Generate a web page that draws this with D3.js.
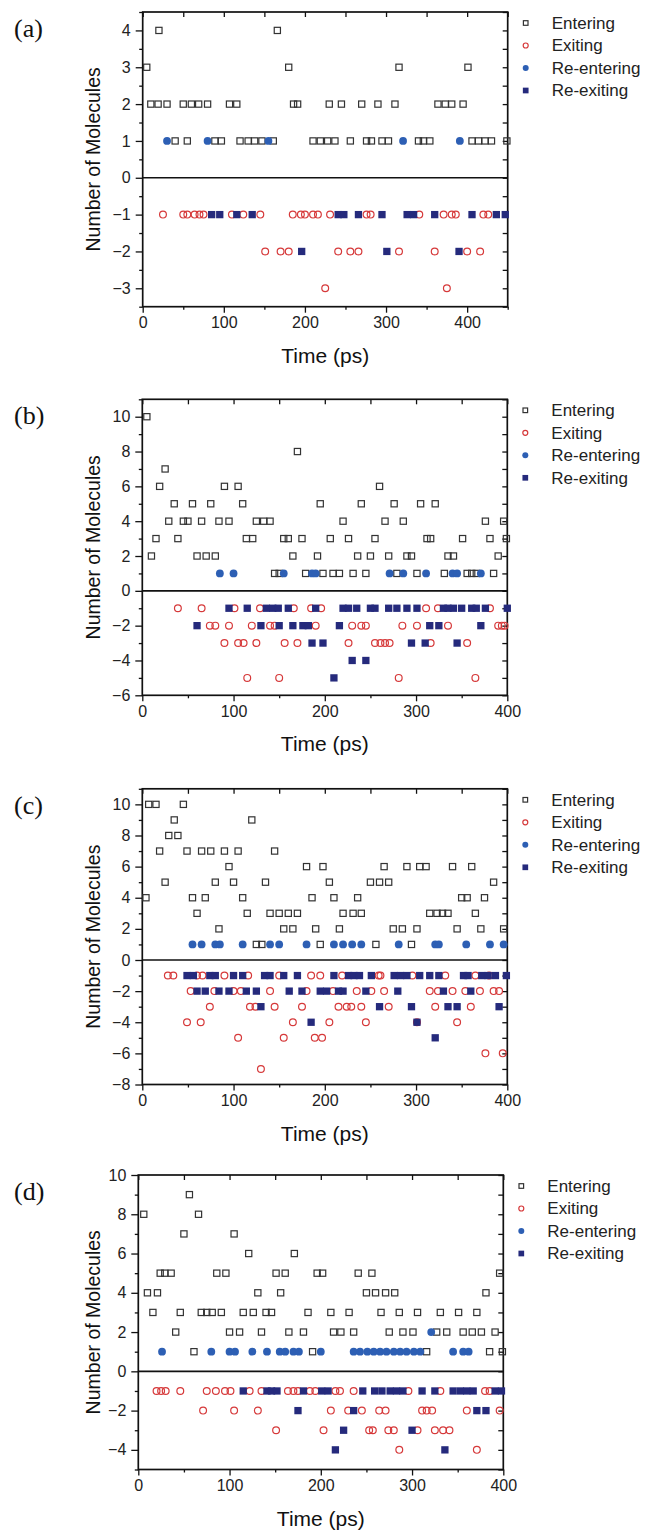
<!DOCTYPE html>
<html><head><meta charset="utf-8">
<script src="https://cdn.jsdelivr.net/npm/d3@7"></script>
<style>body{margin:0;background:#fff}</style>
</head><body>
<svg id="c" width="649" height="1531"></svg>
<script>
// ---------- DATA: [number of molecules, [times in ps]] ----------
const aEnter = [
 [4,[20,166]],
 [3,[5,180,316,401]],
 [2,[10,19,30,50,60,69,80,107,116,186,191,230,245,270,290,311,364,373,381,395]],
 [1,[40,55,89,97,120,130,138,147,161,210,219,228,237,256,276,282,295,303,340,346,354,406,414,422,430,449]]
];
const aExit = [
 [-1,[25,50,55,64,70,75,110,124,145,185,195,200,210,216,231,276,281,341,371,381,386,420,426]],
 [-2,[151,170,180,241,256,266,316,360,400,416]],
 [-3,[225,375]]
];
const aReEnter = [[1,[30,80,155,321,391]]];
const aReExit = [
 [-1,[85,95,116,135,241,248,266,295,326,334,360,406,436,447]],
 [-2,[196,301,390]]
];

const bEnter = [
 [10,[5]],
 [8,[170]],
 [7,[25]],
 [6,[19,90,105,260]],
 [5,[35,55,75,110,195,240,276,305,321]],
 [4,[29,45,50,65,84,95,125,133,140,220,266,286,376,396]],
 [3,[15,39,114,121,155,160,175,206,226,255,312,316,351,381,399]],
 [2,[10,60,70,80,165,192,236,250,270,290,295,335,341,390]],
 [1,[145,150,179,198,209,216,231,245,279,301,331,356,361,366,385]]
];
const bExit = [
 [-1,[39,65,101,129,166,185,196,311,324,381]],
 [-2,[74,80,95,120,140,145,190,230,240,245,285,301,335,390,394,397]],
 [-3,[90,105,111,125,156,170,226,255,261,266,271,316,356]],
 [-5,[115,150,281,365]]
];
const bReEnter = [[1,[85,100,155,186,190,271,286,311,340,345,371]]];
const bReExit = [
 [-1,[95,115,136,143,149,160,190,220,226,235,250,255,270,279,290,301,330,335,341,350,361,366,376,400]],
 [-2,[60,130,150,165,176,182,216,315,325,371]],
 [-3,[186,198,295,310,345]],
 [-4,[230,245]],
 [-5,[210]]
];

const cEnter = [
 [10,[7,15,45]],
 [9,[35,120]],
 [8,[29,39]],
 [7,[19,49,65,75,90,105,145]],
 [6,[95,180,198,265,290,304,311,340,361]],
 [5,[25,80,100,135,205,250,260,270,385]],
 [4,[4,55,69,110,186,210,236,350,356,375]],
 [3,[60,115,140,150,160,170,220,231,240,315,323,329,335,365]],
 [2,[84,155,165,190,216,275,285,301,345,371,396]],
 [1,[125,131,195,256,295]]
];
const cExit = [
 [-1,[28,34,60,66,90,116,150,185,195,219,259,261,296,332,365,380]],
 [-2,[53,79,100,108,140,180,209,235,251,265,315,324,340,354,370,385,391]],
 [-3,[74,118,124,145,175,215,224,229,240,270,321,360]],
 [-4,[49,64,165,205,245,301,345]],
 [-5,[105,155,189,197]],
 [-6,[376,395]],
 [-7,[130]]
];
const cReEnter = [[1,[55,65,80,85,110,140,150,180,210,220,230,240,281,321,325,355,381,396]]];
const cReExit = [
 [-1,[49,56,74,80,100,110,134,140,155,170,210,226,232,238,251,276,283,290,304,315,325,352,357,372,379,387,399]],
 [-2,[60,69,84,95,114,125,161,175,195,202,215,220,245,280,330,360]],
 [-3,[130,260,295,335,345,391]],
 [-4,[185,301]],
 [-5,[321]]
];

const dEnter = [
 [9,[56]],
 [8,[6,66]],
 [7,[50,105]],
 [6,[121,171]],
 [5,[24,29,36,86,96,151,161,196,202,241,256,396]],
 [4,[10,21,131,156,250,260,271,281,381]],
 [3,[16,46,69,75,81,91,115,126,140,146,186,211,231,266,286,306,331,351,371]],
 [2,[41,100,111,135,165,181,214,222,236,275,290,301,327,338,356,366,376,391]],
 [1,[61,191,316,385,399]]
];
const dExit = [
 [-1,[20,25,30,46,75,85,95,101,122,135,164,170,175,188,194,216,221,236,296,331,380,385]],
 [-2,[71,105,131,211,230,245,264,271,311,316,322,360,396]],
 [-3,[151,203,253,257,274,280,306,325,334,341]],
 [-4,[286,371]]
];
const dReEnter = [
 [2,[321]],
 [1,[26,80,100,106,125,141,155,161,170,176,200,236,243,251,258,265,272,280,287,294,302,309,345,356,362]]
];
const dReExit = [
 [-1,[115,141,146,152,181,201,208,246,259,267,276,283,290,311,325,345,353,360,367,391,398]],
 [-2,[175,236,371,381]],
 [-3,[225,300]],
 [-4,[216,336]]
];

const panelLabels = ["(a)","(b)","(c)","(d)"];
const seriesNames = ["Entering","Exiting","Re-entering","Re-exiting"];
const xDomains = [[0,450],[0,400],[0,400],[0,400]];
const yDomains = [[-3.5,4.5],[-6,11],[-8,11],[-5,10]];
const xTickLabels = [0,100,200,300,400];
const yTickLabels = [
 [-3,-2,-1,0,1,2,3,4],
 [-6,-4,-2,0,2,4,6,8,10],
 [-8,-6,-4,-2,0,2,4,6,8,10],
 [-4,-2,0,2,4,6,8,10]
];
const yMinorStep = [0.5,1,1,1];
const xAxisTitle = "Time (ps)";
const yAxisTitle = "Number of Molecules";

const panelData = [
 [aEnter,aExit,aReEnter,aReExit],
 [bEnter,bExit,bReEnter,bReExit],
 [cEnter,cExit,cReEnter,cReExit],
 [dEnter,dExit,dReEnter,dReExit]
];

// ---------- LAYOUT ----------
const layout = [
 {x0:142.7, x1:507.7, y0:12,    y1:306.7},
 {x0:142.3, x1:507.3, y0:399.3, y1:695.3},
 {x0:142.3, x1:507.3, y0:788.8, y1:1084.5},
 {x0:138.3, x1:503.3, y0:1175,  y1:1469.5}
];
const FONT = "'Liberation Sans', Arial, Helvetica, sans-serif";
const colEnter = "#333", colExit = "#d6393a", colReEnter = "#2d5fb4", colReExit = "#252a7c";

const svg = d3.select("#c");

function flat(rows){ return rows.flatMap(([n,ts]) => ts.map(t => ({t,n}))); }
function range(a,b,s){ const r=[]; for(let v=a; v<=b+1e-9; v+=s) r.push(+v.toFixed(3)); return r; }

function drawMarker(g, type, cx, cy, big){
  const s = big ? 6.2 : 4.6, r = big ? 3.4 : 2.5;
  if(type===0) g.append("rect").attr("x",cx-s/2).attr("y",cy-s/2).attr("width",s).attr("height",s)
    .attr("fill","none").attr("stroke",colEnter).attr("stroke-width",1.2);
  else if(type===1) g.append("circle").attr("cx",cx).attr("cy",cy).attr("r",r)
    .attr("fill","none").attr("stroke",colExit).attr("stroke-width",1.2);
  else if(type===2) g.append("circle").attr("cx",cx).attr("cy",cy).attr("r",r+0.5)
    .attr("fill",colReEnter);
  else { const q=s+1.1; g.append("rect").attr("x",cx-q/2).attr("y",cy-q/2).attr("width",q).attr("height",q)
    .attr("fill",colReExit); }
}

panelData.forEach((series, i) => {
  const L = layout[i];
  const x = d3.scaleLinear().domain(xDomains[i]).range([L.x0, L.x1]);
  const y = d3.scaleLinear().domain(yDomains[i]).range([L.y1, L.y0]);
  const g = svg.append("g");
  const [yd0, yd1] = yDomains[i];
  const yMinor = range(yd0, yd1, yMinorStep[i]).filter(v => !yTickLabels[i].includes(v));
  const xMinor = range(xDomains[i][0], xDomains[i][1], 50).filter(v => !xTickLabels.includes(v));

  // bottom axis
  g.append("g").attr("transform",`translate(0,${L.y1})`)
    .call(d3.axisBottom(x).tickValues(xTickLabels).tickSize(6).tickSizeOuter(0).tickPadding(4).tickFormat(d3.format("d")));
  g.append("g").attr("transform",`translate(0,${L.y1})`)
    .call(d3.axisBottom(x).tickValues(xMinor).tickSize(3).tickSizeOuter(0).tickFormat(""));
  // left axis
  g.append("g").attr("transform",`translate(${L.x0},0)`)
    .call(d3.axisLeft(y).tickValues(yTickLabels[i]).tickSize(7).tickSizeOuter(0).tickPadding(5).tickFormat(d3.format("d")));
  g.append("g").attr("transform",`translate(${L.x0},0)`)
    .call(d3.axisLeft(y).tickValues(yMinor).tickSize(3.5).tickSizeOuter(0).tickFormat(""));
  // top and right mirror ticks (inward)
  g.append("g").attr("transform",`translate(0,${L.y0})`)
    .call(d3.axisTop(x).tickValues(xMinor.concat(xTickLabels)).tickSize(-5).tickSizeOuter(0).tickFormat(""));
  g.append("g").attr("transform",`translate(${L.x1},0)`)
    .call(d3.axisRight(y).tickValues(yMinor.concat(yTickLabels[i])).tickSize(-5).tickSizeOuter(0).tickFormat(""));

  g.selectAll(".domain").remove();
  g.selectAll(".tick line").attr("stroke","#111").attr("stroke-width",1.3);
  g.selectAll(".tick text").attr("font-family",FONT).attr("font-size",16).attr("fill","#222");

  // frame and zero line
  g.append("rect").attr("x",L.x0).attr("y",L.y0).attr("width",L.x1-L.x0).attr("height",L.y1-L.y0)
    .attr("fill","none").attr("stroke","#111").attr("stroke-width",1.7);
  g.append("line").attr("x1",L.x0).attr("x2",L.x1).attr("y1",y(0)).attr("y2",y(0))
    .attr("stroke","#111").attr("stroke-width",1.6);

  // markers
  const mg = g.append("g");
  series.forEach((rows, k) => {
    flat(rows).forEach(p => drawMarker(mg, k, x(p.t), y(p.n), true));
  });

  // titles
  g.append("text").attr("x",(L.x0+L.x1)/2).attr("y",L.y1+56)
    .attr("text-anchor","middle").attr("font-family",FONT).attr("font-size",21).attr("fill","#111").text(xAxisTitle);
  g.append("text").attr("transform",`translate(100,${(L.y0+L.y1)/2}) rotate(-90)`)
    .attr("text-anchor","middle").attr("font-family",FONT).attr("font-size",19.5).attr("fill","#111").text(yAxisTitle);
  g.append("text").attr("x",14).attr("y",L.y0+25)
    .attr("font-family","'Liberation Serif','Times New Roman',serif").attr("font-size",26).attr("fill","#111").text(panelLabels[i]);

  // legend
  const lg = g.append("g");
  seriesNames.forEach((name, k) => {
    const ly = L.y0 + 11 + k*22.5;
    const lx = L.x1 + 18;
    drawMarker(lg, k, lx, ly, false);
    lg.append("text").attr("x", lx+26).attr("y", ly).attr("dy","0.35em")
      .attr("font-family",FONT).attr("font-size",17).attr("fill","#222").text(name);
  });
});
</script>
</body></html>
